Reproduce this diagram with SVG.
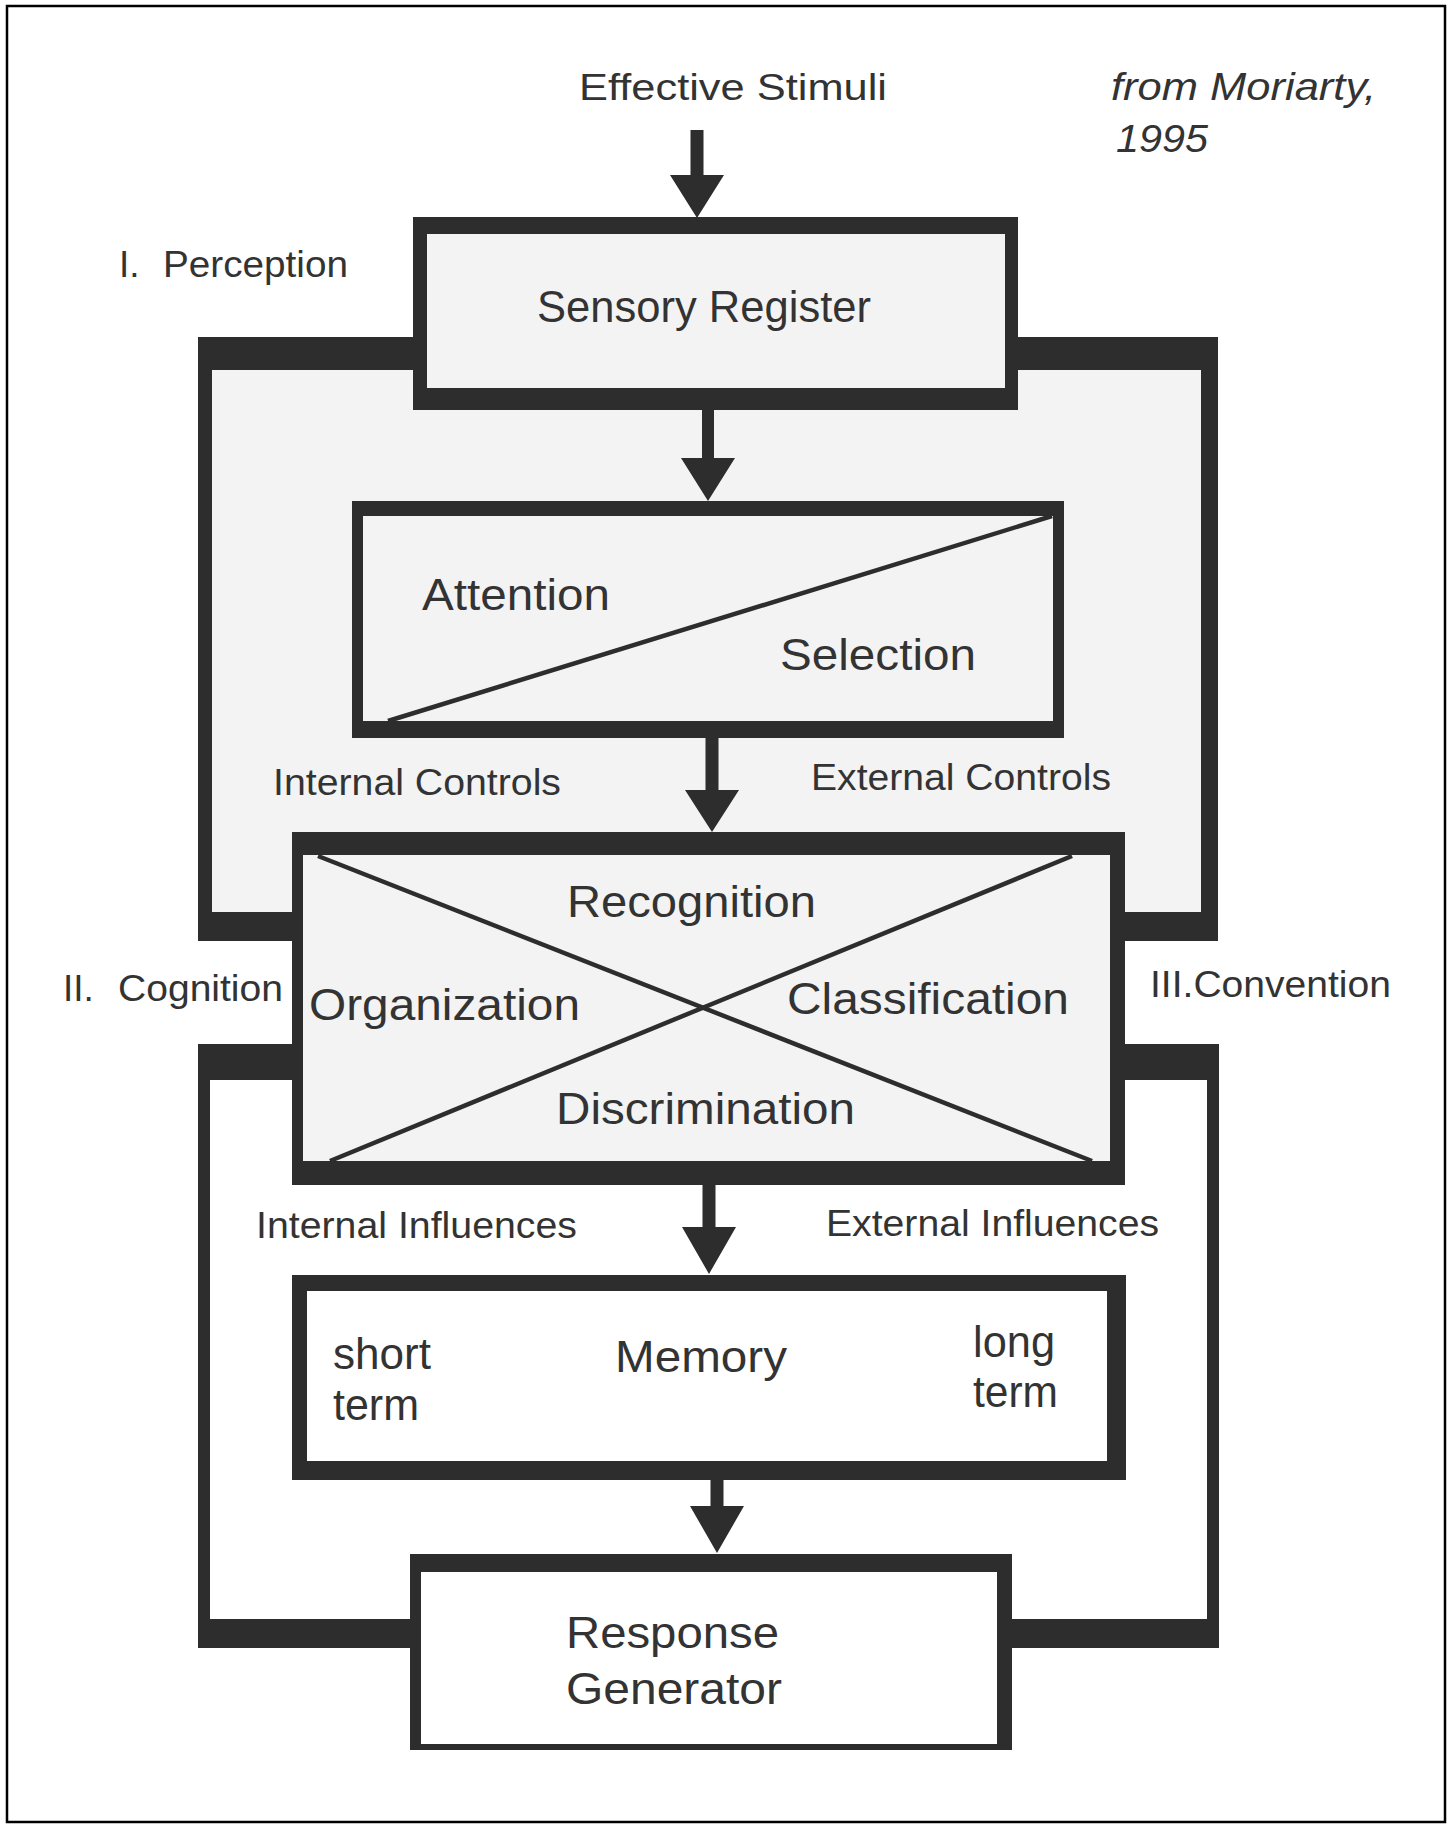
<svg xmlns="http://www.w3.org/2000/svg" width="1450" height="1828" viewBox="0 0 1450 1828">
<style>
.dark{fill:#2d2d2d}
.grey{fill:#f3f3f3}
.white{fill:#ffffff}
.diag{stroke:#2d2d2d;stroke-width:4.5;fill:none}
text{font-family:"Liberation Sans",Arial,sans-serif;fill:#333333;lengthAdjust:spacingAndGlyphs}
.lbl{font-size:37px}
.big{font-size:44px}
.it{font-style:italic;font-size:39px}
</style>
<rect x="0" y="0" width="1450" height="1828" fill="#ffffff"/>
<rect x="7" y="6" width="1438" height="1816" fill="none" stroke="#000" stroke-width="2.5"/>

<g id="frame-perception">
  <rect class="dark" x="198" y="337" width="1020" height="604"/>
  <rect class="grey" x="212" y="370" width="989" height="542"/>
</g>
<g id="frame-cognition">
  <rect class="dark" x="198" y="1044" width="1021" height="604"/>
  <rect class="white" x="210" y="1080" width="997" height="539"/>
</g>

<g id="connectors">
  <polygon class="dark" points="690.5,130 703.5,130 703.5,175 724,175 697,218 670,175 690.5,175"/>
  <polygon class="dark" points="702,410 714,410 714,458 735,458 708,501 681,458 702,458"/>
  <polygon class="dark" points="705.5,738 718.5,738 718.5,790 739,790 712,832 685,790 705.5,790"/>
  <polygon class="dark" points="702.5,1185 715.5,1185 715.5,1227 736,1227 709,1274 682,1227 702.5,1227"/>
  <polygon class="dark" points="710.5,1480 723.5,1480 723.5,1506 744,1506 717,1553 690,1506 710.5,1506"/>
</g>

<g id="sensory-register">
  <rect class="dark" x="413" y="217" width="605" height="193"/>
  <rect class="grey" x="427" y="234" width="578" height="154"/>
  <text class="big" x="537" y="322" font-size="42" textLength="334" lengthAdjust="spacingAndGlyphs">Sensory Register</text>
</g>

<g id="attention-selection">
  <rect class="dark" x="352" y="501" width="712" height="237"/>
  <rect class="grey" x="363" y="516" width="690" height="205"/>
  <line class="diag" x1="388" y1="721" x2="1052" y2="516"/>
  <text class="big" x="422" y="610" textLength="188" lengthAdjust="spacingAndGlyphs">Attention</text>
  <text class="big" x="780" y="670" textLength="196" lengthAdjust="spacingAndGlyphs">Selection</text>
</g>

<g id="recognition">
  <rect class="dark" x="292" y="832" width="833" height="353"/>
  <rect class="grey" x="303" y="855" width="807" height="306"/>
  <line class="diag" x1="318" y1="856" x2="1092" y2="1161"/>
  <line class="diag" x1="1072" y1="856" x2="330" y2="1161"/>
  <text class="big" x="567" y="917" textLength="249" lengthAdjust="spacingAndGlyphs">Recognition</text>
  <text class="big" x="309" y="1020" font-size="46" textLength="271" lengthAdjust="spacingAndGlyphs">Organization</text>
  <text class="big" x="787" y="1014" font-size="45" textLength="282" lengthAdjust="spacingAndGlyphs">Classification</text>
  <text class="big" x="556" y="1124" font-size="45" textLength="299" lengthAdjust="spacingAndGlyphs">Discrimination</text>
</g>

<g id="memory">
  <rect class="dark" x="292" y="1275" width="834" height="205"/>
  <rect class="white" x="307" y="1291" width="800" height="170"/>
  <text class="big" x="333" y="1369" font-size="42" textLength="98" lengthAdjust="spacingAndGlyphs">short</text>
  <text class="big" x="333" y="1420" font-size="42" textLength="86" lengthAdjust="spacingAndGlyphs">term</text>
  <text class="big" x="615" y="1372" font-size="45" textLength="172" lengthAdjust="spacingAndGlyphs">Memory</text>
  <text class="big" x="973" y="1357" font-size="42" textLength="82" lengthAdjust="spacingAndGlyphs">long</text>
  <text class="big" x="973" y="1407" font-size="42" textLength="85" lengthAdjust="spacingAndGlyphs">term</text>
</g>

<g id="response-generator">
  <rect class="dark" x="410" y="1554" width="602" height="196"/>
  <rect class="white" x="421" y="1572" width="576" height="172"/>
  <text class="big" x="566" y="1648" textLength="213" lengthAdjust="spacingAndGlyphs">Response</text>
  <text class="big" x="566" y="1704" textLength="216" lengthAdjust="spacingAndGlyphs">Generator</text>
</g>

<g id="labels">
  <text class="lbl" x="579" y="100" font-size="39" textLength="308" lengthAdjust="spacingAndGlyphs">Effective Stimuli</text>
  <text class="it" x="1111" y="100" textLength="265" lengthAdjust="spacingAndGlyphs">from Moriarty,</text>
  <text class="it" x="1116" y="152" font-size="40" textLength="92" lengthAdjust="spacingAndGlyphs">1995</text>
  <text class="lbl" y="277"><tspan x="119">I.</tspan><tspan x="163" textLength="185" lengthAdjust="spacingAndGlyphs">Perception</tspan></text>
  <text class="lbl" x="273" y="795" font-size="36" textLength="288" lengthAdjust="spacingAndGlyphs">Internal Controls</text>
  <text class="lbl" x="811" y="790" font-size="36" textLength="300" lengthAdjust="spacingAndGlyphs">External Controls</text>
  <text class="lbl" y="1001"><tspan x="63">II.</tspan><tspan x="118" textLength="165" lengthAdjust="spacingAndGlyphs">Cognition</tspan></text>
  <text class="lbl" x="1150" y="997" textLength="241" lengthAdjust="spacingAndGlyphs">III.Convention</text>
  <text class="lbl" x="256" y="1238" font-size="38" textLength="321" lengthAdjust="spacingAndGlyphs">Internal Influences</text>
  <text class="lbl" x="826" y="1236" font-size="38" textLength="333" lengthAdjust="spacingAndGlyphs">External Influences</text>
</g>
</svg>
